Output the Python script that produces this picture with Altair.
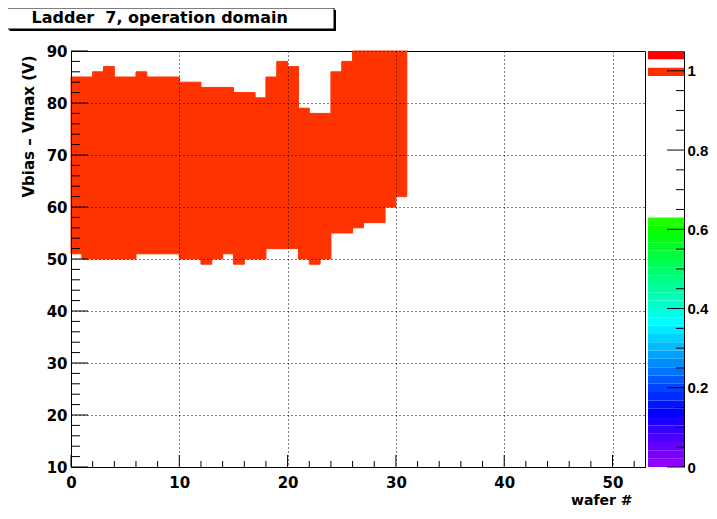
import colorsys
import altair as alt
import pandas as pd

# ---------------- data ----------------
wafer = list(range(31))
v_low = [51, 50, 50, 50, 50, 50, 51, 51, 51, 51, 50, 50, 49, 50, 51, 49,
         50, 50, 52, 52, 52, 50, 49, 50, 55, 55, 56, 57, 57, 60, 62]
v_high = [85, 85, 86, 87, 85, 85, 86, 85, 85, 85, 84, 84, 83, 83, 83, 82,
          82, 81, 85, 88, 87, 79, 78, 78, 86, 88, 90, 90, 90, 90, 90]

x_major = [0, 10, 20, 30, 40, 50]
x_minor = [2, 4, 6, 8, 12, 14, 16, 18, 22, 24, 26, 28, 32, 34, 36, 38,
           42, 44, 46, 48, 52]
y_major = [10, 20, 30, 40, 50, 60, 70, 80, 90]
y_minor = [12, 14, 16, 18, 22, 24, 26, 28, 32, 34, 36, 38, 42, 44, 46, 48,
           52, 54, 56, 58, 62, 64, 66, 68, 72, 74, 76, 78, 82, 84, 86, 88]
z_major = [0, 0.2, 0.4, 0.6, 0.8, 1.0]
z_minor = [0.05, 0.1, 0.15, 0.25, 0.3, 0.35, 0.45, 0.5, 0.55, 0.65, 0.7,
           0.75, 0.85, 0.9, 0.95]

title_text = "Ladder\u00a0\u00a07, operation domain"
x_title = "wafer #"
y_title = "Vbias \u2013 Vmax (V)"

# ---------------- palette (ROOT "pretty" palette, 50 bands) ----------------
N_BANDS = 50
Z_MAX = 1.05
pal = []
for i in range(N_BANDS - 1):
    h = 280 - (i + 1) * 280 / N_BANDS
    r, g, b = colorsys.hls_to_rgb(h / 360.0, 0.5, 1.0)
    pal.append("#%02x%02x%02x" % (round(r * 255), round(g * 255), round(b * 255)))
pal.append("#ff0000")
shown = set(range(30)) | {47, 49}
band_rows = []
for i in range(N_BANDS):
    if i in shown:
        band_rows.append({"z0": i * Z_MAX / N_BANDS,
                          "z1": (i + 1) * Z_MAX / N_BANDS,
                          "col": pal[i]})
CELL = "#ff3300"

# ---------------- layout ----------------
PW, PH = 574, 416
FONT = "DejaVu Sans"
FONT2 = "Liberation Sans"

cells_df = pd.DataFrame({"x0": wafer, "x1": [w + 1 for w in wafer],
                         "lo": v_low, "hi": v_high})

xscale = alt.Scale(domain=[0, 53], nice=False, zero=False)
yscale = alt.Scale(domain=[10, 90], nice=False, zero=False)
zscale = alt.Scale(domain=[0, Z_MAX], nice=False, zero=True)

X_AXIS = alt.Axis(values=x_major, grid=True, gridDash=[1, 3],
                  gridColor="black", gridOpacity=1, gridWidth=1,
                  ticks=False, domain=True, domainColor="black", domainWidth=1,
                  labelFont=FONT, labelFontSize=15, labelFontWeight="bold",
                  labelColor="black", labelPadding=8, labelFlush=False,
                  title=x_title, titleFont=FONT, titleFontSize=14,
                  titleFontWeight="bold", titleColor="black",
                  titleX=561, titleY=37, titleAlign="right",
                  titleBaseline="alphabetic", zindex=1)
Y_AXIS = alt.Axis(values=y_major, grid=True, gridDash=[1, 3],
                  gridColor="black", gridOpacity=1, gridWidth=1,
                  ticks=False, domain=True, domainColor="black", domainWidth=1,
                  labelFont=FONT, labelFontSize=15, labelFontWeight="bold",
                  labelColor="black", labelPadding=4, labelFlush=False,
                  title=y_title, titleFont=FONT, titleFontSize=15,
                  titleFontWeight="bold", titleColor="black",
                  titleAngle=270, titleX=-43, titleY=4,
                  titleAlign="right", titleBaseline="middle", zindex=1)

cells = alt.Chart(cells_df).mark_rect(color=CELL, stroke=CELL, strokeWidth=1).encode(
    x=alt.X("x0:Q", scale=xscale, axis=X_AXIS),
    x2="x1:Q",
    y=alt.Y("lo:Q", scale=yscale, axis=Y_AXIS),
    y2="hi:Q",
)

xmaj = alt.Chart(pd.DataFrame({"x0": x_major})).mark_rule(color="black", strokeWidth=1).encode(
    x=alt.X("x0:Q", scale=xscale, axis=X_AXIS), y=alt.value(PH), y2=alt.value(PH - 12))
xmin = alt.Chart(pd.DataFrame({"x0": x_minor})).mark_rule(color="black", strokeWidth=1).encode(
    x=alt.X("x0:Q", scale=xscale, axis=X_AXIS), y=alt.value(PH), y2=alt.value(PH - 6))
ymaj = alt.Chart(pd.DataFrame({"lo": y_major})).mark_rule(color="black", strokeWidth=1).encode(
    y=alt.Y("lo:Q", scale=yscale, axis=Y_AXIS), x=alt.value(0), x2=alt.value(17))
ymin = alt.Chart(pd.DataFrame({"lo": y_minor})).mark_rule(color="black", strokeWidth=1).encode(
    y=alt.Y("lo:Q", scale=yscale, axis=Y_AXIS), x=alt.value(0), x2=alt.value(9))

one = pd.DataFrame({"t": [title_text]})
shadow = alt.Chart(one).mark_rect(color="black").encode(
    x=alt.value(-61.5), x2=alt.value(265), y=alt.value(-41), y2=alt.value(-20))
box = alt.Chart(one).mark_rect(fill="white", stroke="black", strokeWidth=1).encode(
    x=alt.value(-63.5), x2=alt.value(263), y=alt.value(-43), y2=alt.value(-22))
head = alt.Chart(one).mark_text(font=FONT, fontSize=16, fontWeight="bold",
                                color="black", align="left",
                                baseline="alphabetic").encode(
    x=alt.value(-39.5), y=alt.value(-28), text="t:N")

main = alt.layer(cells, xmin, xmaj, ymin, ymaj, shadow, box, head)

# ---------------- colour bar ----------------
CB_L, CB_R = 577, 613
Z_AXIS = alt.Axis(orient="right", offset=CB_R - PW, values=z_major,
                  ticks=False, grid=False, domain=True, domainColor="black",
                  domainWidth=1,
                  labelFont=FONT2, labelFontSize=15, labelFontWeight="bold",
                  labelColor="black", labelPadding=3, labelFlush=False,
                  labelExpr="format(datum.value, '~g')", title=None)

bands = alt.Chart(pd.DataFrame(band_rows)).mark_rect(strokeWidth=0).encode(
    y=alt.Y("z0:Q", scale=zscale, axis=Z_AXIS),
    y2="z1:Q",
    x=alt.value(CB_L), x2=alt.value(CB_R),
    color=alt.Color("col:N", scale=None),
)
zmaj = alt.Chart(pd.DataFrame({"z0": z_major})).mark_rule(color="black", strokeWidth=1).encode(
    y=alt.Y("z0:Q", scale=zscale, axis=Z_AXIS), x=alt.value(CB_R - 17), x2=alt.value(CB_R))
zmin = alt.Chart(pd.DataFrame({"z0": z_minor})).mark_rule(color="black", strokeWidth=1).encode(
    y=alt.Y("z0:Q", scale=zscale, axis=Z_AXIS), x=alt.value(CB_R - 8), x2=alt.value(CB_R))

cbar = alt.layer(bands, zmaj, zmin)

chart = alt.layer(main, cbar).resolve_scale(y="independent").properties(
    width=PW, height=PH,
    autosize=alt.AutoSizeParams(type="none"),
    padding={"left": 63, "top": 43, "right": 64, "bottom": 44},
    background="white",
).configure_view(stroke="black", strokeWidth=1)

chart.save("out.html", embed_options={"renderer": "svg", "actions": False})
